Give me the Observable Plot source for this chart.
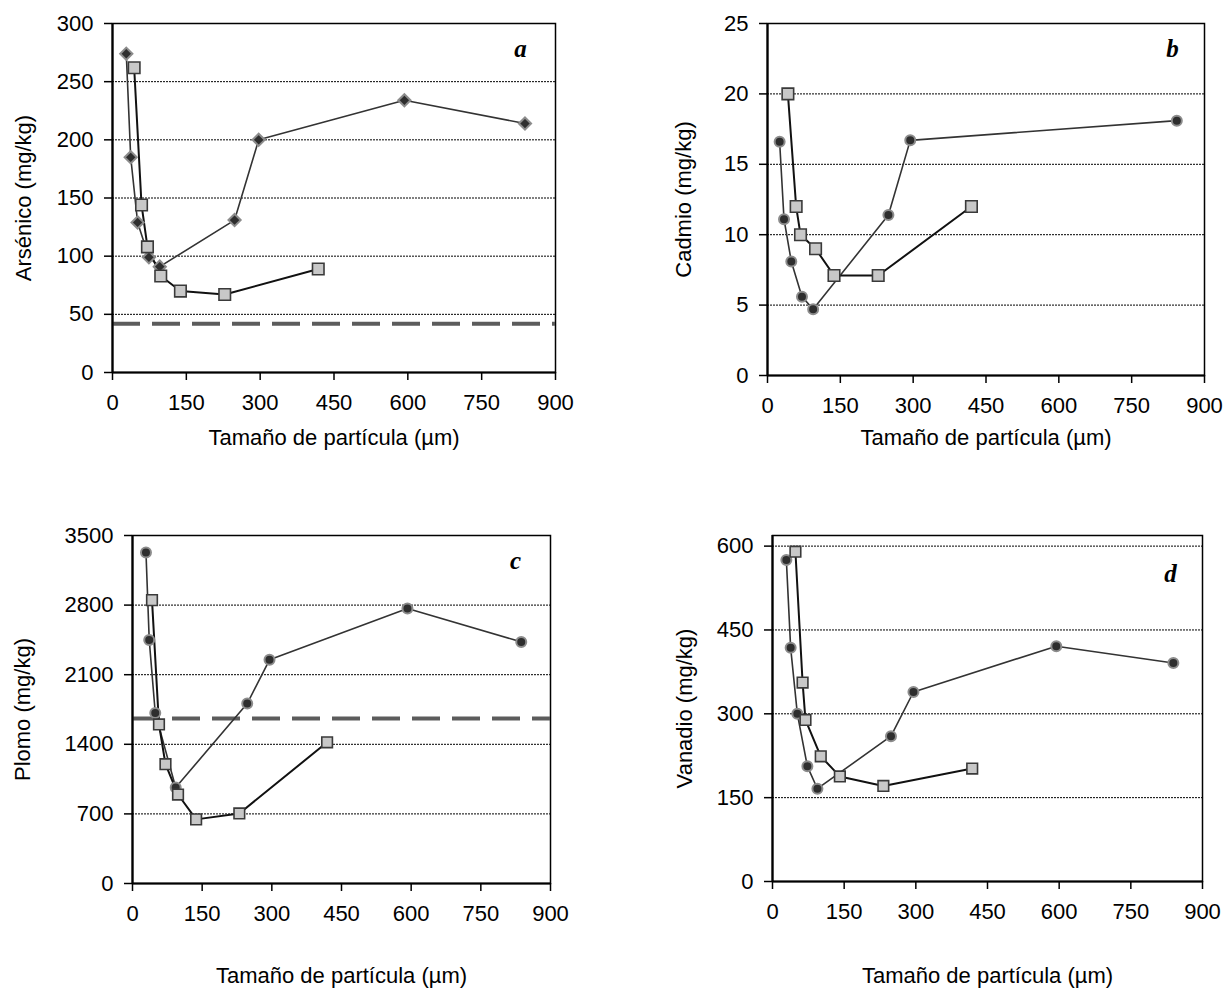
<!DOCTYPE html>
<html><head><meta charset="utf-8">
<script src="https://cdn.jsdelivr.net/npm/d3@7"></script>
<script src="https://cdn.jsdelivr.net/npm/@observablehq/plot@0.6"></script>
<style>
body{margin:0;background:#fff;}
#wrap{position:relative;width:1225px;height:989px;font-family:"Liberation Sans",Arial,sans-serif;}
#wrap svg{position:absolute;}
</style></head><body><div id="wrap"></div>
<script>
// ---------- data ----------
const xTicks = [0, 150, 300, 450, 600, 750, 900];
const xTitle = "Tamaño de partícula (µm)";

// a – Arsénico
const asSize1 = [28, 37, 51, 74, 96, 248, 297, 593, 838];
const asVal1  = [274, 185, 129, 99, 91, 131, 200, 234, 214];
const asSize2 = [44, 59, 71, 98, 138, 228, 418];
const asVal2  = [262, 144, 108, 83, 70, 67, 89];
const asLimit = 42;
const asTicks = [0, 50, 100, 150, 200, 250, 300];

// b – Cadmio
const cdSize1 = [25, 34, 49, 71, 94, 249, 294, 843];
const cdVal1  = [16.6, 11.1, 8.1, 5.6, 4.7, 11.4, 16.7, 18.1];
const cdSize2 = [42, 59, 68, 99, 137, 228, 420];
const cdVal2  = [20.0, 12.0, 10.0, 9.0, 7.1, 7.1, 12.0];
const cdTicks = [0, 5, 10, 15, 20, 25];

// c – Plomo
const pbSize1 = [29, 36, 49, 93, 247, 295, 592, 837];
const pbVal1  = [3330, 2450, 1715, 965, 1810, 2250, 2765, 2430];
const pbSize2 = [42, 57, 71, 98, 137, 230, 419];
const pbVal2  = [2850, 1600, 1200, 895, 645, 705, 1420];
const pbLimit = 1660;
const pbTicks = [0, 700, 1400, 2100, 2800, 3500];

// d – Vanadio
const vSize1 = [29, 38, 52, 73, 94, 248, 295, 594, 839];
const vVal1  = [575, 418, 300, 206, 166, 260, 339, 421, 391];
const vSize2 = [48, 63, 69, 101, 141, 232, 418];
const vVal2  = [590, 356, 289, 224, 188, 171, 202];
const vTicks = [0, 150, 300, 450, 600];

// ---------- drawing ----------
const zip = (xs, ys) => xs.map((x, i) => ({x, y: ys[i]}));
const wrap = document.getElementById("wrap");

function panel(o) {
  const s1 = zip(o.s1x, o.s1y), s2 = zip(o.s2x, o.s2y);
  const marks = [
    Plot.gridY(o.yTicks.filter(t => t > 0), {stroke: "#000", strokeOpacity: 1, strokeWidth: 1, strokeDasharray: "2,1"}),
    Plot.frame({stroke: "#000", strokeWidth: 1.5}),
  ];
  if (o.limit != null) marks.push(Plot.ruleY([o.limit], {stroke: "#5c5c5c", strokeWidth: 4, strokeDasharray: "28,12"}));
  marks.push(
    Plot.line(s1, {x: "x", y: "y", stroke: "#333", strokeWidth: 1.6}),
    Plot.line(s2, {x: "x", y: "y", stroke: "#111", strokeWidth: 2}),
    Plot.dot(s1, {x: "x", y: "y", symbol: o.sym1, r: o.r1, fill: "#2e2e2e", stroke: "#8c8c8c", strokeWidth: 2}),
    Plot.dot(s2, {x: "x", y: "y", symbol: "square", r: o.r2, fill: "#c8c8c8", stroke: "#3a3a3a", strokeWidth: 1.6}),
    Plot.ruleX([0], {stroke: "#000", strokeWidth: 2.2}),
    Plot.ruleY([0], {stroke: "#000", strokeWidth: 2.2}),
    Plot.axisX({ticks: xTicks, tickSize: 8, tickPadding: 14, tickFormat: "d", label: null, strokeWidth: 1.5}),
    Plot.axisY({ticks: o.yTicks, tickSize: 8, tickPadding: 11, tickFormat: "d", label: null, strokeWidth: 1.5}),
    Plot.text([xTitle], {frameAnchor: "bottom", dy: o.xtDy, text: d => d, fontSize: 22, lineAnchor: "middle", textAnchor: "middle"}),
    Plot.text([o.yLabel], {frameAnchor: "left", dx: -o.ytDx, rotate: -90, text: d => d, fontSize: 22, lineAnchor: "middle", textAnchor: "middle"}),
    Plot.text([o.letter], {frameAnchor: "top-right", dx: o.ldx, dy: o.ldy, text: d => d, fontSize: 25,
      fontFamily: "Liberation Serif", fontWeight: "bold", fontStyle: "italic", lineAnchor: "middle", textAnchor: "middle"})
  );
  const svg = Plot.plot({
    width: o.w, height: o.h,
    marginLeft: o.ml, marginRight: o.mr, marginTop: o.mt, marginBottom: o.mb,
    x: {domain: [0, 900]},
    y: {domain: o.yDomain},
    style: {fontFamily: "'Liberation Sans', Arial, sans-serif", fontSize: "22px", color: "#000", background: "transparent", overflow: "visible"},
    marks
  });
  svg.style.left = o.left + "px";
  svg.style.top = o.top + "px";
  wrap.appendChild(svg);
}

panel({left: 0, top: 0, w: 612, h: 470, ml: 112, mr: 57, mt: 23, mb: 98,
  yDomain: [0, 300], yTicks: asTicks, yLabel: "Arsénico (mg/kg)", letter: "a",
  s1x: asSize1, s1y: asVal1, s2x: asSize2, s2y: asVal2, limit: asLimit,
  sym1: "diamond2", r1: 5.5, r2: 6.5, xtDy: 65, ytDx: 89, ldx: -35, ldy: 25});

panel({left: 612, top: 0, w: 613, h: 470, ml: 155, mr: 21, mt: 23, mb: 95,
  yDomain: [0, 25], yTicks: cdTicks, yLabel: "Cadmio (mg/kg)", letter: "b",
  s1x: cdSize1, s1y: cdVal1, s2x: cdSize2, s2y: cdVal2, limit: null,
  sym1: "circle", r1: 5, r2: 6.5, xtDy: 62, ytDx: 84, ldx: -32, ldy: 25});

panel({left: 0, top: 480, w: 612, h: 509, ml: 132, mr: 62, mt: 55, mb: 106,
  yDomain: [0, 3500], yTicks: pbTicks, yLabel: "Plomo (mg/kg)", letter: "c",
  s1x: pbSize1, s1y: pbVal1, s2x: pbSize2, s2y: pbVal2, limit: pbLimit,
  sym1: "circle", r1: 5, r2: 6, xtDy: 92, ytDx: 110, ldx: -35, ldy: 25});

panel({left: 612, top: 480, w: 613, h: 509, ml: 160, mr: 23, mt: 55, mb: 108,
  yDomain: [0, 619], yTicks: vTicks, yLabel: "Vanadio (mg/kg)", letter: "d",
  s1x: vSize1, s1y: vVal1, s2x: vSize2, s2y: vVal2, limit: null,
  sym1: "circle", r1: 5, r2: 6, xtDy: 94, ytDx: 88, ldx: -32, ldy: 38});
</script>
</body></html>
